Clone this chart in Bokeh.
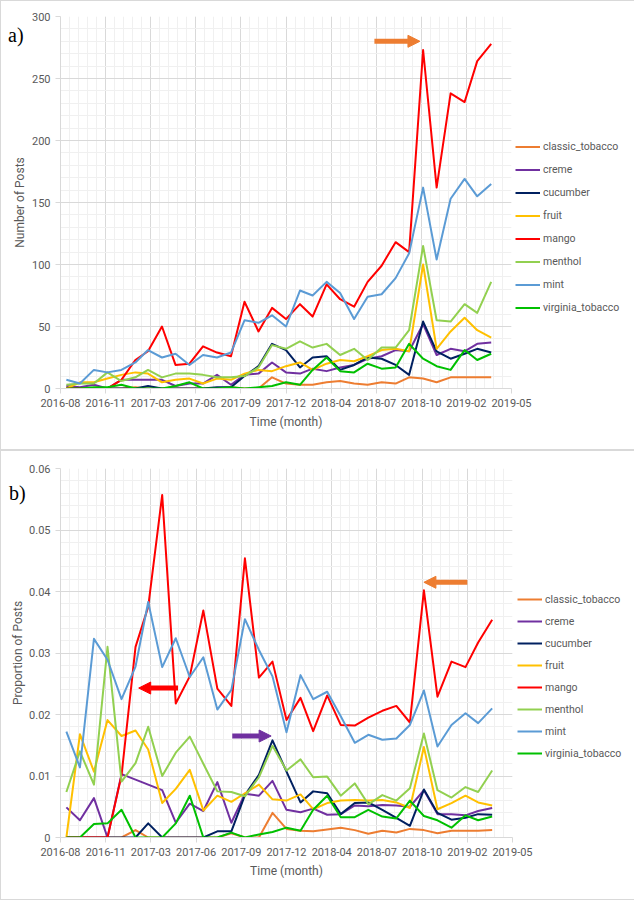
import pandas as pd
from bokeh.plotting import figure
from bokeh.models import FixedTicker, Legend, LegendItem, Arrow, NormalHead, Range1d, Div
from bokeh.layouts import column
from bokeh.embed import file_html
from bokeh.resources import INLINE

# ---------------- data ----------------
months = ["2016-08", "2016-09", "2016-10", "2016-11", "2016-12", "2017-01", "2017-02", "2017-03",
          "2017-04", "2017-05", "2017-06", "2017-07", "2017-08", "2017-09", "2017-10", "2017-11",
          "2017-12", "2018-01", "2018-02", "2018-03", "2018-04", "2018-05", "2018-06", "2018-07",
          "2018-08", "2018-09", "2018-10", "2018-11", "2018-12", "2019-01", "2019-02", "2019-03"]

flavors = ["classic_tobacco", "creme", "cucumber", "fruit", "mango", "menthol", "mint", "virginia_tobacco"]

# a) number of posts
posts_classic_tobacco = [0, 0, 0, 0, 0, 1, 0, 0, 0, 0, 0, 0, 1, 0, 0, 9, 4, 3, 3, 5, 6, 4, 3, 5, 4, 9, 8, 5, 9, 9, 9, 9]
posts_creme = [2, 1, 3, 0, 7, 7, 7, 7, 2, 4, 4, 11, 3, 11, 12, 21, 13, 12, 16, 14, 17, 19, 24, 26, 31, 30, 52, 27, 32, 30, 36, 37]
posts_cucumber = [0, 0, 0, 0, 0, 0, 2, 0, 0, 0, 0, 1, 1, 10, 18, 36, 31, 17, 25, 26, 15, 19, 25, 24, 19, 11, 54, 30, 24, 28, 32, 29]
posts_fruit = [0, 5, 5, 8, 11, 13, 12, 5, 7, 8, 4, 8, 7, 12, 15, 14, 18, 21, 15, 20, 23, 22, 26, 31, 32, 30, 100, 32, 46, 57, 47, 41]
posts_mango = [0, 0, 0, 0, 7, 23, 30, 50, 19, 20, 34, 29, 26, 70, 46, 65, 56, 68, 58, 84, 72, 66, 86, 99, 118, 110, 273, 162, 238, 231, 264, 278]
posts_menthol = [3, 4, 4, 13, 6, 9, 15, 9, 12, 12, 11, 9, 9, 10, 17, 35, 32, 38, 33, 36, 27, 32, 23, 33, 33, 47, 115, 55, 54, 68, 61, 86]
posts_mint = [7, 4, 15, 13, 15, 21, 31, 25, 28, 19, 27, 25, 29, 55, 53, 59, 50, 79, 75, 86, 77, 56, 74, 76, 89, 109, 162, 104, 153, 169, 155, 165]
posts_virginia_tobacco = [0, 0, 1, 1, 3, 0, 0, 0, 2, 5, 0, 0, 1, 0, 1, 2, 5, 3, 15, 25, 14, 13, 20, 16, 17, 36, 24, 18, 15, 31, 23, 28]

# b) proportion of posts
prop_classic_tobacco = [0, 0, 0, 0, 0, 0.0012, 0, 0, 0, 0, 0, 0, 0.0007, 0, 0, 0.0040, 0.0014, 0.0011, 0.0010, 0.0013,
                        0.0016, 0.0012, 0.0006, 0.0011, 0.0008, 0.0014, 0.0012, 0.0007, 0.0011, 0.0011, 0.0011, 0.0012]
prop_creme = [0.0049, 0.0028, 0.0064, 0, 0.0103, 0.0094, 0.0086, 0.0077, 0.0024, 0.0055, 0.0043, 0.0090, 0.0024, 0.0071,
              0.0068, 0.0092, 0.0045, 0.0041, 0.0047, 0.0037, 0.0038, 0.0052, 0.0051, 0.0053, 0.0052, 0.0050, 0.0077,
              0.0038, 0.0038, 0.0036, 0.0043, 0.0048]
prop_cucumber = [0, 0, 0, 0, 0, 0, 0.0023, 0, 0, 0, 0, 0.0010, 0.0010, 0.0069, 0.0102, 0.0158, 0.0107, 0.0057, 0.0075,
                 0.0072, 0.0038, 0.0056, 0.0057, 0.0045, 0.0032, 0.0019, 0.0078, 0.0040, 0.0029, 0.0032, 0.0038, 0.0037]
prop_fruit = [0, 0.0168, 0.0107, 0.0191, 0.0165, 0.0174, 0.0143, 0.0056, 0.0079, 0.0110, 0.0044, 0.0068, 0.0058, 0.0072,
              0.0086, 0.0062, 0.0060, 0.0070, 0.0046, 0.0056, 0.0060, 0.0061, 0.0060, 0.0061, 0.0057, 0.0048, 0.0147,
              0.0046, 0.0056, 0.0068, 0.0057, 0.0052]
prop_mango = [0, 0, 0, 0, 0.0101, 0.0310, 0.0375, 0.0557, 0.0218, 0.0262, 0.0369, 0.0242, 0.0214, 0.0454, 0.0260,
              0.0286, 0.0191, 0.0227, 0.0173, 0.0231, 0.0183, 0.0182, 0.0195, 0.0206, 0.0214, 0.0187, 0.0402, 0.0229,
              0.0286, 0.0277, 0.0317, 0.0354]
prop_menthol = [0.0074, 0.0140, 0.0086, 0.0310, 0.0091, 0.0121, 0.0180, 0.0100, 0.0138, 0.0164, 0.0120, 0.0075, 0.0074,
                0.0067, 0.0098, 0.0149, 0.0109, 0.0127, 0.0098, 0.0099, 0.0068, 0.0088, 0.0054, 0.0069, 0.0060, 0.0080,
                0.0169, 0.0077, 0.0065, 0.0082, 0.0074, 0.0109]
prop_mint = [0.0172, 0.0114, 0.0323, 0.0289, 0.0225, 0.0278, 0.0383, 0.0277, 0.0324, 0.0261, 0.0293, 0.0208, 0.0240,
             0.0355, 0.0305, 0.0262, 0.0171, 0.0264, 0.0225, 0.0237, 0.0197, 0.0154, 0.0167, 0.0159, 0.0161, 0.0183,
             0.0239, 0.0148, 0.0183, 0.0202, 0.0186, 0.0210]
prop_virginia_tobacco = [0, 0, 0.0022, 0.0023, 0.0045, 0, 0, 0, 0.0023, 0.0068, 0, 0, 0.0008, 0, 0.0005, 0.0009, 0.0016,
                         0.0011, 0.0045, 0.0068, 0.0033, 0.0033, 0.0045, 0.0034, 0.0031, 0.0060, 0.0035, 0.0028, 0.0016,
                         0.0036, 0.0028, 0.0034]

# axes
x_axis_start = "2016-08-18"
x_tick_labels = ["2016-08", "2016-11", "2017-03", "2017-06", "2017-09", "2017-12",
                 "2018-04", "2018-07", "2018-10", "2019-02", "2019-05"]
x_tick_step_days = 100
y_ticks_a = [0, 50, 100, 150, 200, 250, 300]
y_tick_labels_a = ["0", "50", "100", "150", "200", "250", "300"]
y_ticks_b = [0, 0.01, 0.02, 0.03, 0.04, 0.05, 0.06]
y_tick_labels_b = ["0", "0.01", "0.02", "0.03", "0.04", "0.05", "0.06"]

# annotation arrows: (start date, end date, value, colour)
arrows_a = [("2018-07-15", "2018-10-24", 280, "#ED7D31")]
arrows_b = [("2017-05-05", "2017-02-07", 0.0243, "#FF0000"),
            ("2017-09-02", "2017-11-27", 0.0165, "#7030A0"),
            ("2019-02-04", "2018-10-31", 0.0415, "#ED7D31")]

# ---------------- styling ----------------
colors = ["#ED7D31", "#7030A0", "#002060", "#FFC000", "#FF0000", "#92D050", "#5B9BD5", "#00C000"]
TXT = "#595959"
FONT = "Roboto"

t0 = pd.Timestamp(x_axis_start)


def to_days(d):
    return (pd.Timestamp(d) - t0).days


x_days = [(pd.Timestamp(m) + pd.offsets.MonthEnd(0) - t0).days for m in months]
x_ticks = [i * x_tick_step_days for i in range(len(x_tick_labels))]
x_minor = list(range(0, x_ticks[-1] + 1, x_tick_step_days // 5))


def make_panel(series, y_ticks, y_labels, y_title, arrows, title_standoff,
               frame_w, frame_h, left, top, bottom, right, legend_xy, legend_h, legend_sp):
    ymax = y_ticks[-1]
    step = y_ticks[1] - y_ticks[0]
    p = figure(frame_width=frame_w, frame_height=frame_h,
               min_border_left=left, min_border_top=top, min_border_bottom=bottom, min_border_right=right,
               x_range=Range1d(0, x_ticks[-1]), y_range=Range1d(0, ymax),
               toolbar_location=None, output_backend="svg")
    p.styles = {"outline": "1px solid #D9D9D9", "outline-offset": "-1px"}
    p.outline_line_color = None
    p.background_fill_color = "white"
    p.border_fill_color = None

    p.xaxis.ticker = FixedTicker(ticks=x_ticks, minor_ticks=x_minor)
    p.xaxis.major_label_overrides = {t: l for t, l in zip(x_ticks, x_tick_labels)}
    minor_y = [round(k * step / 5, 6) for k in range(int(round(ymax / (step / 5))) + 1)]
    p.yaxis.ticker = FixedTicker(ticks=y_ticks, minor_ticks=minor_y)
    p.yaxis.major_label_overrides = {t: l for t, l in zip(y_ticks, y_labels)}

    for ax in (p.xaxis, p.yaxis):
        ax.axis_line_color = "#D9D9D9"
        ax.major_tick_line_color = "#D9D9D9"
        ax.major_tick_out = 5
        ax.major_tick_in = 0
        ax.minor_tick_out = 0
        ax.minor_tick_in = 0
        ax.major_label_text_font = FONT
        ax.major_label_text_font_size = "11px"
        ax.major_label_text_color = TXT
        ax.major_label_standoff = 5
        ax.axis_label_text_font = FONT
        ax.axis_label_text_font_size = "12px"
        ax.axis_label_text_font_style = "normal"
        ax.axis_label_text_color = TXT
    p.xaxis.axis_label = "Time (month)"
    p.xaxis.axis_label_standoff = 5
    p.yaxis.axis_label = y_title
    p.yaxis.axis_label_standoff = title_standoff

    for g in (p.xgrid, p.ygrid):
        g.grid_line_color = "#D9D9D9"
        g.grid_line_width = 1
        g.minor_grid_line_color = "#F0F0F0"
        g.minor_grid_line_width = 1

    items = []
    for name, vals, c in zip(flavors, series, colors):
        r = p.line(x_days, vals, line_color=c, line_width=2, line_join="round")
        items.append(LegendItem(label=name, renderers=[r]))

    legend = Legend(items=items, location=legend_xy, glyph_width=25, glyph_height=legend_h,
                    label_height=legend_h, label_standoff=3, spacing=legend_sp, padding=0, margin=0,
                    border_line_color=None, background_fill_alpha=0,
                    label_text_font=FONT, label_text_font_size="10.5px", label_text_color=TXT)
    p.add_layout(legend, "right")

    for s, e, v, c in arrows:
        p.add_layout(Arrow(x_start=to_days(s), y_start=v, x_end=to_days(e), y_end=v,
                           line_color=c, line_width=5,
                           end=NormalHead(size=12, fill_color=c, line_color=c)))
    return p


def panel_letter(text, left, top):
    html = ('<div style="position:relative; left:%dpx; top:%dpx; font-family:\'Liberation Serif\'; '
            'font-size:20px; line-height:24px; color:#000; white-space:nowrap; margin:0; padding:0">%s</div>'
            % (left, top, text))
    return Div(text=html, width=40, height=0, margin=0, styles={"overflow": "visible", "z-index": "5"})


pa = make_panel([posts_classic_tobacco, posts_creme, posts_cucumber, posts_fruit, posts_mango,
                 posts_menthol, posts_mint, posts_virginia_tobacco],
                y_ticks_a, y_tick_labels_a, "Number of Posts", arrows_a, 2,
                frame_w=451, frame_h=372, left=58, top=16, bottom=62, right=125,
                legend_xy=(4, 72), legend_h=17, legend_sp=6)

pb = make_panel([prop_classic_tobacco, prop_creme, prop_cucumber, prop_fruit, prop_mango,
                 prop_menthol, prop_mint, prop_virginia_tobacco],
                y_ticks_b, y_tick_labels_b, "Proportion of Posts", arrows_b, 1,
                frame_w=452, frame_h=369, left=60, top=18, bottom=63, right=122,
                legend_xy=(5, 76), legend_h=16, legend_sp=6)

layout = column(panel_letter("a)", 8, 23), pa, panel_letter("b)", 9, 31), pb, spacing=0)
open("out.html", "w").write(file_html(layout, INLINE))
